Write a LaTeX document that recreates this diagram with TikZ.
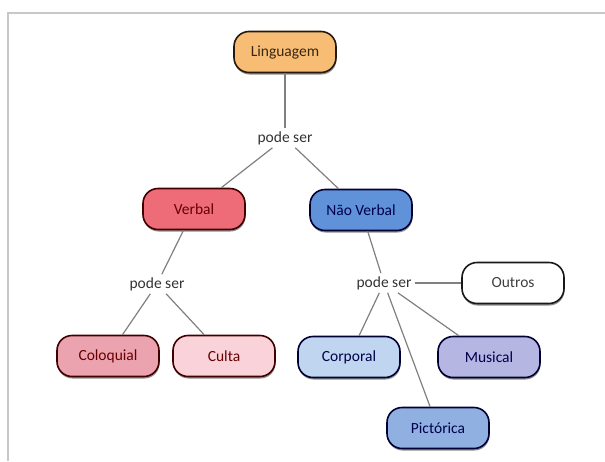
\documentclass[tikz,border=0pt]{standalone}
\usepackage{fontspec}
\setmainfont{Carlito}
\usetikzlibrary{shadows}
\definecolor{cOrange}{HTML}{F8BD74}
\definecolor{cRed}{HTML}{EE6C78}
\definecolor{cBlue}{HTML}{5F92D8}
\definecolor{cPink}{HTML}{EBA3AF}
\definecolor{cLtPink}{HTML}{F9D3D9}
\definecolor{cLtBlue}{HTML}{BFD5F0}
\definecolor{cLav}{HTML}{B6B6E2}
\definecolor{cMidBlue}{HTML}{8FB0E0}
\definecolor{cLine}{HTML}{808080}
\definecolor{cFrame}{HTML}{C8C8C8}
\begin{document}
\begin{tikzpicture}[x=1pt,y=-1pt,
  concept/.style={draw=#1, line width=1.6pt, rounded corners=15pt,
    minimum width=102pt, minimum height=41pt, inner sep=2pt,
    font=\fontsize{15.5}{17}\selectfont,
    drop shadow={shadow xshift=0.5pt, shadow yshift=-2pt, fill=black!55, opacity=0.8}},
  linkword/.style={font=\fontsize{15.5}{17}\selectfont, text=black!80, inner sep=3pt},
  conn/.style={draw=cLine, line width=1.2pt}]
\useasboundingbox (0,0) rectangle (605,461);
\fill[white] (0,0) rectangle (605,461);
\draw[cFrame, line width=1.2pt] (8,461) -- (8,13) -- (605,13);
% nodes
\node[concept=black!80!brown, fill=cOrange, text=black!70!brown] (ling) at (285,52) {Linguagem};
\node[linkword] (ps1) at (285,138) {pode ser};
\node[concept=black!75!red, fill=cRed, text=black!60!red] (verb) at (194,209) {Verbal};
\node[concept=black!80!blue, fill=cBlue, text=black!70!blue] (nverb) at (361,210) {Não Verbal};
\node[linkword] (ps2) at (157,284) {pode ser};
\node[linkword] (ps3) at (384,283) {pode ser};
\node[concept=black!90, fill=white, text=black!75] (outros) at (513,283) {Outros};
\node[concept=black!75!red, fill=cPink, text=black!60!red] (colo) at (108,356) {Coloquial};
\node[concept=black!75!red, fill=cLtPink, text=black!60!red] (culta) at (224,356) {Culta};
\node[concept=black!80!blue, fill=cLtBlue, text=black!70!blue] (corp) at (349,357) {Corporal};
\node[concept=black!80!blue, fill=cLav, text=black!70!blue] (mus) at (489,357) {Musical};
\node[concept=black!80!blue, fill=cMidBlue, text=black!70!blue] (pict) at (438,428) {Pictórica};
% connectors
\draw[conn] (ling.south) -- (ps1.north);
\draw[conn] (ps1) -- (verb);
\draw[conn] (ps1) -- (nverb);
\draw[conn] (verb) -- (ps2);
\draw[conn] (nverb) -- (ps3);
\draw[conn] (ps3) -- (outros);
\draw[conn] (ps2) -- (colo);
\draw[conn] (ps2) -- (culta);
\draw[conn] (ps3) -- (corp);
\draw[conn] (ps3) -- (mus);
\draw[conn] (ps3) -- (pict);
\end{tikzpicture}
\end{document}
